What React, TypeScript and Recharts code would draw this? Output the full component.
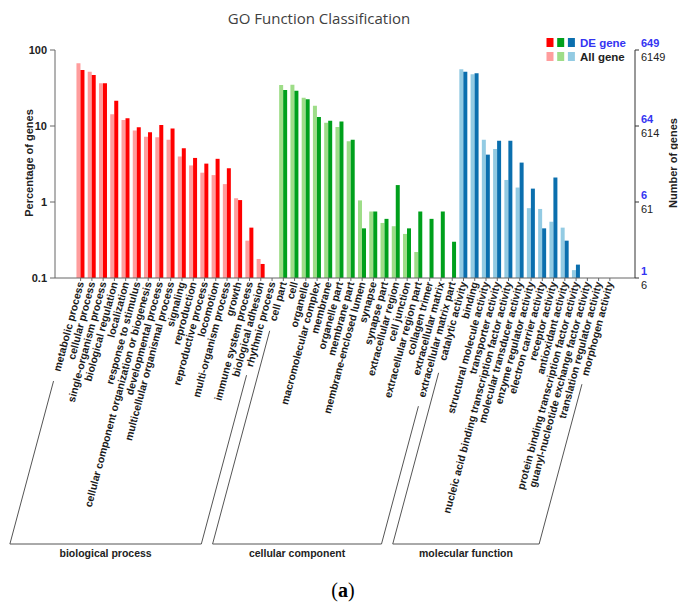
import React from "react";
import { Bar, BarChart, Cell, XAxis, YAxis } from "recharts";

// GO terms per ontology, left to right as in the figure
const bpTerms = [
  "metabolic process",
  "cellular process",
  "single-organism process",
  "biological regulation",
  "localization",
  "response to stimulus",
  "cellular component organization or biogenesis",
  "developmental process",
  "multicellular organismal process",
  "signaling",
  "reproduction",
  "reproductive process",
  "locomotion",
  "multi-organism process",
  "growth",
  "immune system process",
  "biological adhesion",
  "rhythmic process",
];
const bpAll = [66.8, 51.6, 36.5, 14.3, 12.0, 8.7, 7.2, 7.1, 6.6, 3.97, 3.03, 2.43, 2.26, 1.72, 1.12, 0.31, 0.178, null];
const bpDe = [54.6, 46.8, 36.5, 21.5, 12.6, 9.6, 8.3, 10.3, 9.3, 5.1, 3.8, 3.2, 3.7, 2.78, 1.06, 0.46, 0.153, null];

const ccTerms = [
  "cell part",
  "cell",
  "organelle",
  "macromolecular complex",
  "membrane",
  "organelle part",
  "membrane part",
  "membrane-enclosed lumen",
  "synapse",
  "synapse part",
  "extracellular region",
  "cell junction",
  "extracellular region part",
  "collagen trimer",
  "extracellular matrix",
  "extracellular matrix part",
];
const ccAll = [34.7, 35, 23.6, 18.5, 11, 9.7, 6.3, 1.05, 0.75, 0.53, 0.48, 0.38, 0.22, null, null, null];
const ccDe = [29.7, 29, 22.5, 13.1, 11.7, 11.5, 6.6, 0.45, 0.75, 0.6, 1.67, 0.45, 0.75, 0.6, 0.75, 0.3];

const mfTerms = [
  "catalytic activity",
  "binding",
  "structural molecule activity",
  "transporter activity",
  "nucleic acid binding transcription factor activity",
  "molecular transducer activity",
  "enzyme regulator activity",
  "electron carrier activity",
  "receptor activity",
  "antioxidant activity",
  "protein binding transcription factor activity",
  "guanyl-nucleotide exchange factor activity",
  "translation regulator activity",
  "morphogen activity",
];
const mfAll = [55.6, 48, 6.6, 5.0, 1.95, 1.55, 0.83, 0.81, 0.55, 0.46, 0.127, null, null, null];
const mfDe = [51.6, 49.3, 4.2, 6.4, 6.4, 3.3, 1.5, 0.45, 2.1, 0.31, 0.15, null, null, null];

const groupNames = ["biological process", "cellular component", "molecular function"];
const lightColors = ["#ff9d9d", "#9edd88", "#93cbe3"];
const darkColors = ["#ff0000", "#00a01c", "#0b6fae"];

const yTicks = [0.1, 1, 10, 100];
const deGeneTicks = ["1", "6", "64", "649"];
const allGeneTicks = ["6", "61", "614", "6149"];

const groups = [
  { terms: bpTerms, all: bpAll, de: bpDe },
  { terms: ccTerms, all: ccAll, de: ccDe },
  { terms: mfTerms, all: mfAll, de: mfDe },
];

const rows = groups.flatMap((g, gi) =>
  g.terms.map((term, i) => ({
    term,
    group: gi,
    first: i === 0,
    last: i === g.terms.length - 1,
    all: g.all[i],
    de: g.de[i],
  }))
);

const FONT = "'Liberation Sans', Arial, Helvetica, sans-serif";
const TICK_SIZE = 10.5;
const SIN = Math.sin((15 * Math.PI) / 180);
const COS = Math.cos((15 * Math.PI) / 180);
const BRACKET_BOTTOM = 544;

// rough bold Arial text width, used to start bracket lines past the label
function textWidth(s: string, size: number) {
  let w = 0;
  for (const ch of s) {
    if ("iljtfr -".includes(ch)) w += 0.31;
    else if ("mw".includes(ch)) w += 0.89;
    else w += 0.58;
  }
  return w * size;
}

const groupStartX: number[] = [];

const CategoryTick = (props: any) => {
  const { x, y, payload, index } = props;
  const row = rows[index];
  const y0 = y - 2;
  const sBottom = (BRACKET_BOTTOM - y0) / COS;
  const bottomX = x - SIN * sBottom;
  const sTop = textWidth(String(payload.value), TICK_SIZE) + 12;
  const topX = x - SIN * sTop;
  const topY = y0 + COS * sTop;
  if (row.first) groupStartX[row.group] = bottomX;
  const startX = groupStartX[row.group];
  return (
    <g>
      <text
        x={x}
        y={y}
        dy={3.6}
        textAnchor="end"
        transform={`rotate(-75 ${x} ${y})`}
        fontFamily={FONT}
        fontWeight="bold"
        fontSize={TICK_SIZE}
        fill="#1a1a1a"
      >
        {payload.value}
      </text>
      {(row.first || row.last) && (
        <line x1={topX} y1={topY} x2={bottomX} y2={BRACKET_BOTTOM} stroke="#555" strokeWidth={1} />
      )}
      {row.last && (
        <>
          <line x1={startX} y1={BRACKET_BOTTOM} x2={bottomX} y2={BRACKET_BOTTOM} stroke="#555" strokeWidth={1} />
          <text
            x={(startX + bottomX) / 2}
            y={BRACKET_BOTTOM + 13}
            textAnchor="middle"
            fontFamily={FONT}
            fontWeight="bold"
            fontSize={10.5}
            fill="#222"
          >
            {groupNames[row.group]}
          </text>
        </>
      )}
    </g>
  );
};

const LeftTick = (props: any) => {
  const { x, y, payload } = props;
  return (
    <text x={x} y={y} dy={4} textAnchor="end" fontFamily={FONT} fontWeight="bold" fontSize={11} fill="#222">
      {String(payload.value)}
    </text>
  );
};

const RightTick = (props: any) => {
  const { x, y, index } = props;
  return (
    <g fontFamily={FONT} fontSize={11}>
      <text x={x} y={y} dy={-3} fill="#3434f2" fontWeight="bold">
        {deGeneTicks[index]}
      </text>
      <text x={x} y={y} dy={11} fill="#222">
        {allGeneTicks[index]}
      </text>
    </g>
  );
};

export default function App() {
  return (
    <div style={{ position: "absolute", left: 0, top: 0, width: 678, height: 607, background: "#fff" }}>
      <BarChart
        width={678}
        height={607}
        data={rows}
        margin={{ top: 50, right: 0, bottom: 0, left: 0 }}
        barCategoryGap="13%"
        barGap={0}
      >
        <XAxis
          dataKey="term"
          height={329}
          interval={0}
          padding={{ left: 20, right: 19.5 }}
          tickSize={3}
          tickMargin={1}
          stroke="#666"
          tick={<CategoryTick />}
        />
        <YAxis
          yAxisId="left"
          width={55}
          scale="log"
          type="number"
          domain={[0.1, 100]}
          ticks={yTicks}
          allowDataOverflow
          tickSize={5}
          tickMargin={3}
          stroke="#666"
          tick={<LeftTick />}
        />
        <YAxis
          yAxisId="right"
          orientation="right"
          width={43}
          scale="log"
          type="number"
          domain={[0.1, 100]}
          ticks={yTicks}
          allowDataOverflow
          tickSize={4}
          tickMargin={2}
          stroke="#333"
          tick={<RightTick />}
        />
        <Bar yAxisId="left" dataKey="all" isAnimationActive={false}>
          {rows.map((r, i) => (
            <Cell key={`a${i}`} fill={lightColors[r.group]} />
          ))}
        </Bar>
        <Bar yAxisId="left" dataKey="de" isAnimationActive={false}>
          {rows.map((r, i) => (
            <Cell key={`d${i}`} fill={darkColors[r.group]} />
          ))}
        </Bar>
      </BarChart>
      <svg
        width={678}
        height={607}
        style={{ position: "absolute", left: 0, top: 0, pointerEvents: "none" }}
      >
        <text x={319} y={24} textAnchor="middle" fontFamily="'Open Sans', sans-serif" fontSize={15} fill="#404040">
          GO Function Classification
        </text>
        <text
          x={0}
          y={0}
          transform="translate(33 163) rotate(-90)"
          textAnchor="middle"
          fontFamily={FONT}
          fontWeight="bold"
          fontSize={11}
          fill="#222"
        >
          Percentage of genes
        </text>
        <text
          x={0}
          y={0}
          transform="translate(677 163) rotate(-90)"
          textAnchor="middle"
          fontFamily={FONT}
          fontWeight="bold"
          fontSize={11}
          fill="#222"
        >
          Number of genes
        </text>
        {darkColors.map((c, i) => (
          <rect key={`ld${i}`} x={546.5 + i * 10.7} y={38} width={7} height={9} fill={c} />
        ))}
        {lightColors.map((c, i) => (
          <rect key={`ll${i}`} x={546.5 + i * 10.7} y={52} width={7} height={9} fill={c} />
        ))}
        <text x={580} y={47} fontFamily={FONT} fontWeight="bold" fontSize={11.5} fill="#3434f2">
          DE gene
        </text>
        <text x={580} y={61} fontFamily={FONT} fontWeight="bold" fontSize={11.5} fill="#222">
          All gene
        </text>
        <text x={343} y={597} textAnchor="middle" fontFamily="'Liberation Serif', 'DejaVu Serif', serif" fontSize={20} fill="#000">
          (<tspan fontWeight="bold">a</tspan>)
        </text>
      </svg>
    </div>
  );
}
